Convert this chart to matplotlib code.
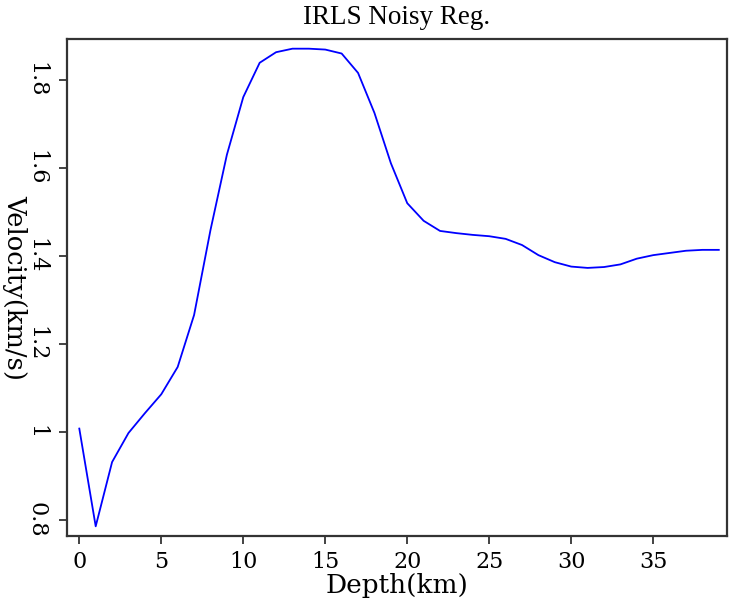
import matplotlib
matplotlib.use("Agg")
import matplotlib.pyplot as plt

depth = list(range(40))
velocity = [1.008, 0.786, 0.932, 0.998, 1.043, 1.086, 1.148, 1.266, 1.459, 1.63,
            1.761, 1.839, 1.863, 1.871, 1.871, 1.869, 1.86, 1.816, 1.725, 1.611,
            1.52, 1.48, 1.457, 1.452, 1.448, 1.445, 1.439, 1.425, 1.402, 1.386,
            1.376, 1.373, 1.375, 1.381, 1.394, 1.402, 1.407, 1.412, 1.414, 1.414]
xticks = [0, 5, 10, 15, 20, 25, 30, 35]
yticks = [0.8, 1.0, 1.2, 1.4, 1.6, 1.8]
yticklabels = ["0.8", "1", "1.2", "1.4", "1.6", "1.8"]

plt.rcParams['font.family'] = ['DejaVu Serif']

fig = plt.figure(figsize=(7.31, 6.0), dpi=100)
ax = fig.add_axes([67/731, 1-536/600, (727-67)/731, (536-39)/600])
ax.plot(depth, velocity, color='#0000ff', lw=1.3)
ax.set_xlim(-0.75, 39.5)
ax.set_ylim(0.764, 1.893)
ax.set_xticks(xticks)
ax.set_xticklabels([str(t) for t in xticks], fontsize=16)
ax.set_yticks(yticks)
ax.set_yticklabels(yticklabels, fontsize=16, rotation=-90, va='center')
ax.tick_params(axis='x', direction='out', length=6, width=1.2, color='#222222', pad=5)
ax.tick_params(axis='y', direction='out', length=6, width=1.2, color='#222222', pad=8)
for s in ax.spines.values():
    s.set_linewidth(1.6)
    s.set_color('#333333')
ax.set_xlabel('Depth(km)', fontsize=19, labelpad=0)
ax.set_ylabel('Velocity(km/s)', fontsize=18.5, rotation=-90, va='center', ha='center')
ax.yaxis.set_label_coords(-0.0795, 0.5)
ax.set_title('IRLS Noisy Reg.', fontsize=19.5, pad=11, family=['Liberation Serif'])
fig.savefig('out.png', dpi=100)
